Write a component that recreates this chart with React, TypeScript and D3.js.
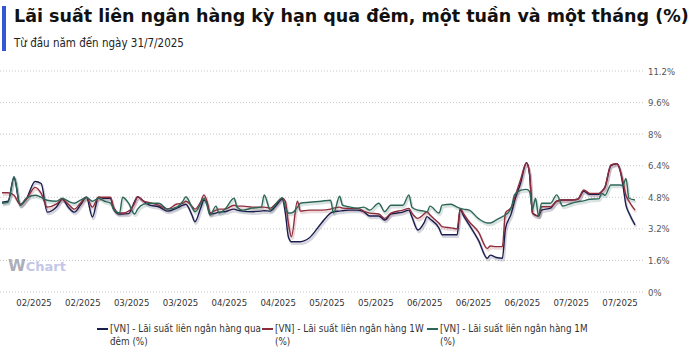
import React from "react";
import * as d3 from "d3";

// days counted from 2 Jan 2025
const startDate = new Date(2025, 0, 2);
const endDate = new Date(2025, 6, 31);
const days = [
  0, 2, 4, 6, 8, 11, 13, 15, 18, 20, 22, 24, 26, 28, 30, 32, 34, 36, 37, 39, 40, 42, 44, 45, 47, 49,
  52, 55, 58, 60, 61, 63, 64, 66, 67, 68, 69, 71, 72, 74, 77, 78, 80, 83, 86, 87, 89, 91, 93, 94, 95,
  96, 98, 99, 102, 106, 109, 110, 112, 113, 115, 118, 120, 122, 125, 127, 129, 133, 135, 136, 138,
  140, 141, 142, 145, 146, 149, 151, 152, 153, 155, 158, 161, 162, 164, 166, 167, 169, 170, 172, 174,
  175, 176, 177, 178, 179, 182, 184, 186, 189, 191, 193, 195, 198, 199, 200, 202, 204, 205, 206, 207,
  208, 210,
];

// qua đêm
const overnight = [
  4.55, 4.6, 5.8, 4.4, 4.7, 5.6, 5.5, 4.05, 4.3, 4.7, 4.3, 4.05, 4.4, 4.8, 3.8, 4.8, 4.75, 4.75, 4.2,
  3.95, 3.95, 3.97, 4.6, 4.83, 4.6, 4.4, 4.32, 4.1, 4.25, 4.4, 4.45, 3.9, 3.56, 4.3, 4.66, 4.5, 3.95,
  4.0, 4.05, 4.07, 4.2, 4.15, 4.1, 4.07, 4.1, 4.12, 4.1, 4.4, 4.7, 4.0, 2.8, 2.55, 2.55, 2.55, 2.75,
  3.5, 4.0, 4.07, 4.1, 4.12, 4.15, 4.15, 4.07, 3.85, 3.85, 3.65, 3.95, 4.05, 4.15, 3.8, 3.14, 3.5,
  3.82, 3.7, 3.23, 2.9, 2.9, 2.9, 4.2, 3.9, 3.4, 2.64, 1.71, 1.87, 1.75, 1.71, 3.2, 4.0, 4.6, 5.5,
  6.55, 6.0, 4.0, 3.9, 3.85, 4.15, 4.25, 4.6, 4.66, 4.66, 4.7, 5.1, 4.95, 4.95, 5.1, 5.3, 6.4, 6.5,
  6.2, 5.4, 4.4, 4.0, 3.4,
];

// 1 tuần
const oneWeek = [
  5.03, 5.03, 4.9, 4.45, 4.7, 5.3, 5.0, 4.3, 4.45, 4.7, 4.45, 4.2, 4.5, 4.8, 4.3, 4.8, 4.8, 4.8, 4.3,
  4.0, 4.0, 4.1, 4.5, 4.83, 4.6, 4.53, 4.4, 4.2, 4.46, 4.5, 4.6, 4.35, 4.2, 4.6, 4.92, 4.6, 4.0, 4.15,
  4.2, 4.2, 4.4, 4.35, 4.35, 4.3, 4.3, 4.3, 4.25, 4.5, 4.75, 4.6, 3.5, 2.8, 4.6, 4.1, 4.15, 4.15, 4.2,
  4.25, 4.3, 4.25, 4.24, 4.24, 4.1, 4.0, 3.95, 3.73, 4.0, 4.15, 4.24, 4.0, 3.73, 3.95, 4.07, 3.9, 3.48,
  3.31, 3.25, 3.2, 4.24, 4.0, 3.56, 3.06, 2.21, 2.33, 2.3, 2.3, 4.0, 4.3, 4.75, 5.68, 6.55, 6.0, 4.0,
  3.9, 3.85, 4.32, 4.32, 4.6, 4.66, 4.66, 4.7, 5.17, 5.0, 5.0, 5.1, 5.3, 6.44, 6.5, 6.2, 5.6, 4.9, 4.6,
  4.15,
];

// 1 tháng
const oneMonth = [
  4.5, 4.55, 5.85, 4.4, 4.75, 4.9, 4.8, 4.65, 4.6, 4.75, 4.6, 4.5, 4.65, 4.8, 4.6, 4.75, 4.6, 4.5, 4.2,
  4.0, 4.8, 4.5, 3.95, 4.2, 4.45, 4.5, 4.5, 4.2, 4.3, 4.6, 4.83, 4.3, 4.07, 4.5, 4.75, 4.4, 3.9, 4.35,
  4.0, 4.2, 4.75, 4.3, 4.15, 4.25, 4.3, 4.92, 4.15, 4.5, 4.78, 4.3, 4.0, 4.0, 4.3, 4.5, 4.55, 4.6, 4.65,
  4.0, 4.85, 4.4, 4.32, 4.25, 4.3, 4.15, 4.5, 4.07, 4.4, 4.4, 4.92, 4.3, 4.15, 4.1, 4.07, 4.35, 4.0,
  4.4, 4.45, 4.3, 4.24, 4.2, 4.15, 3.73, 3.5, 3.5, 3.65, 3.82, 3.9, 4.3, 4.92, 5.15, 5.2, 5.1, 4.2,
  4.75, 3.85, 4.5, 4.5, 4.92, 4.36, 4.5, 4.58, 4.62, 4.7, 4.72, 5.0, 4.9, 5.42, 5.42, 5.42, 5.4, 5.76,
  4.75, 4.66,
];

const seriesNames = [
  ["[VN] - Lãi suất liên ngân hàng qua", "đêm (%)"],
  ["[VN] - Lãi suất liên ngân hàng 1W", "(%)"],
  ["[VN] - Lãi suất liên ngân hàng 1M", "(%)"],
];
const seriesColors = ["#1b1d4e", "#8e2c3b", "#2c6656"];
const yTicks = [0, 1.6, 3.2, 4.8, 6.4, 8, 9.6, 11.2];
const xTickLabels = [
  "02/2025", "02/2025", "03/2025", "03/2025", "04/2025", "04/2025", "05/2025",
  "05/2025", "06/2025", "06/2025", "06/2025", "07/2025", "07/2025",
];

const W = 700;
const H = 354;
const font = "'DejaVu Sans', Verdana, sans-serif";

export default function App() {
  const x = d3.scaleTime().domain([startDate, endDate]).range([2, 635]);
  const y = d3.scaleLinear().domain([0, 11.2]).range([292, 71]);
  const xTick = d3.scalePoint().domain(d3.range(xTickLabels.length).map(String)).range([34, 620]);
  const legendX = d3.scaleBand().domain(["0", "1", "2"]).range([97, 592]);

  const dates = days.map((d) => d3.timeDay.offset(startDate, d));
  const allSeries = [overnight, oneWeek, oneMonth];
  const line = d3
    .line<number>()
    .x((_, i) => x(dates[i]))
    .y((v) => y(v))
    .curve(d3.curveMonotoneX);

  return (
    <svg
      width={W}
      height={H}
      style={{ position: "absolute", left: 0, top: 0, background: "#fff" }}
      fontFamily={font}
    >
      <rect x={2} y={6} width={4} height={45} fill="#3656d6" />
      <text x={14} y={22} fontSize={17.5} fontWeight="bold" fill="#111">
        Lãi suất liên ngân hàng kỳ hạn qua đêm, một tuần và một tháng (%)
      </text>
      <text x={14} y={47} fontSize={11.5} fill="#222" style={{ fontStretch: "condensed" }}>
        Từ đầu năm đến ngày 31/7/2025
      </text>

      {/* grid + y labels */}
      {yTicks.map((t) => (
        <g key={t}>
          <line
            x1={0}
            x2={643}
            y1={y(t)}
            y2={y(t)}
            stroke="#c8c8c8"
            strokeDasharray="1,2"
          />
          <text x={648} y={y(t) + 3.5} fontSize={9.5} fill="#555" style={{ fontStretch: "condensed" }}>
            {d3.format("~g")(t) + "%"}
          </text>
        </g>
      ))}

      {/* watermark */}
      <text x={8} y={271} fontSize={16} fontWeight="bold" fill="#9ea0b0" opacity={0.85}>
        W<tspan fontSize={13} fill="#b9bde2">Chart</tspan>
      </text>

      {/* x labels */}
      {xTickLabels.map((lab, i) => (
        <text
          key={i}
          x={xTick(String(i))}
          y={306}
          fontSize={9.5}
          fill="#333"
          textAnchor="middle"
          style={{ fontStretch: "condensed" }}
        >
          {lab}
        </text>
      ))}

      {/* shadows */}
      {allSeries.map((s, i) => (
        <path
          key={"s" + i}
          d={line(s) || ""}
          fill="none"
          stroke={seriesColors[i]}
          strokeOpacity={0.18}
          strokeWidth={2.5}
          transform="translate(1,2)"
        />
      ))}
      {allSeries.map((s, i) => (
        <path key={i} d={line(s) || ""} fill="none" stroke={seriesColors[i]} strokeWidth={1.4} />
      ))}

      {/* legend */}
      {seriesNames.map((nm, i) => {
        const lx = legendX(String(i)) as number;
        return (
          <g key={i} style={{ fontStretch: "condensed" }}>
            <line x1={lx} x2={lx + 11} y1={329} y2={329} stroke={seriesColors[i]} strokeWidth={2} />
            <text x={lx + 13} y={332} fontSize={9.8} fill="#333">
              {nm[0]}
            </text>
            <text x={lx + 13} y={345} fontSize={9.8} fill="#333">
              {nm[1]}
            </text>
          </g>
        );
      })}
    </svg>
  );
}
